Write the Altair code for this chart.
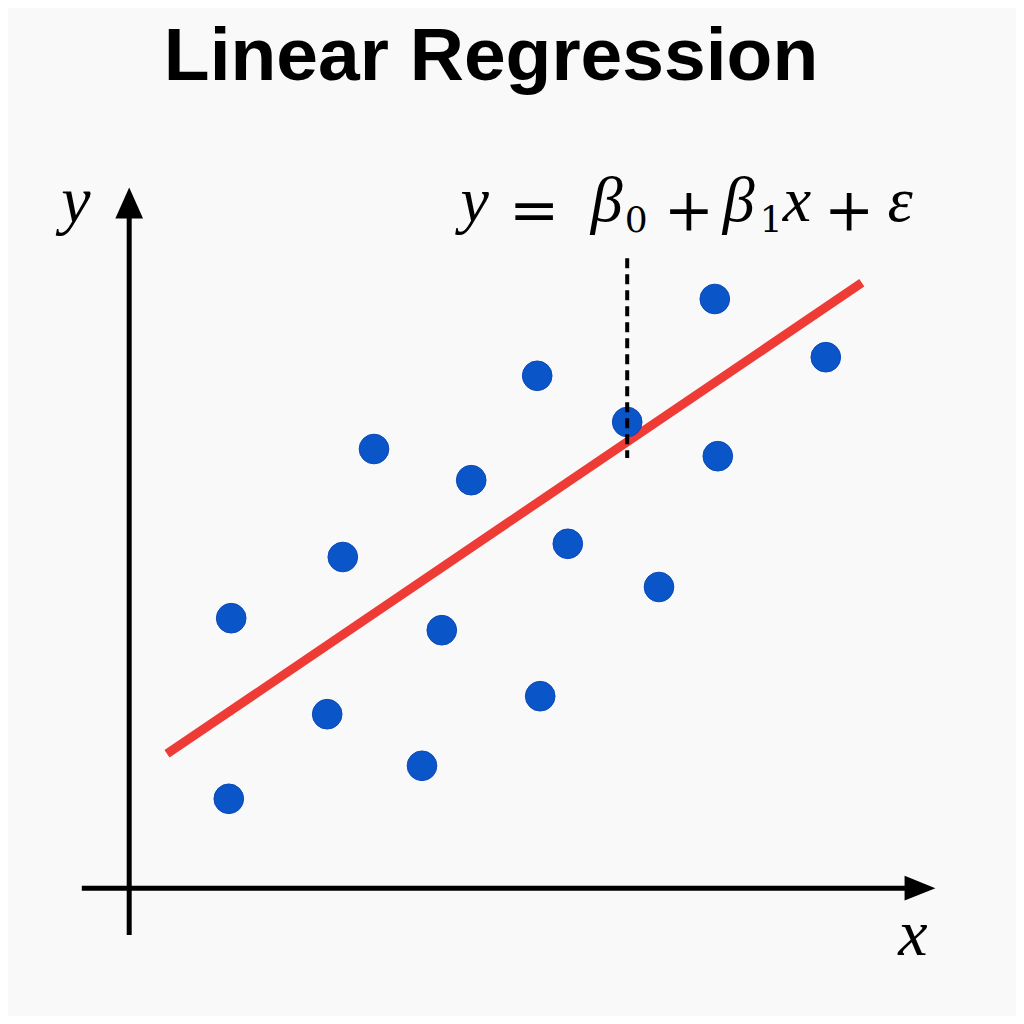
import altair as alt
import pandas as pd

# Scatter points (data units)
px = [1.72, 1.68, 3.32, 3.58, 4.10, 4.90, 5.23, 5.72, 6.82, 6.87, 7.33, 8.32, 8.85, 9.78, 9.83, 11.63]
py = [4.53, 1.52, 2.93, 5.55, 7.35, 2.07, 4.33, 6.83, 8.57, 3.23, 5.77, 7.80, 5.05, 9.85, 7.23, 8.88]

# Regression line end points
line_x = [0.65, 12.23]
line_y = [2.27, 10.12]

# Residual (dashed) segment
res_x = [8.32]
res_y1 = [10.53]
res_y2 = [7.20]

# Axes segments (x, y, x2, y2)
axis_x1 = [0.02, -0.77]
axis_y1 = [-0.75, 0.03]
axis_x2 = [0.02, 12.95]
axis_y2 = [11.3, 0.03]

# Arrow heads
head_x = [0.02, 13.2]
head_y = [11.45, 0.03]
head_shape = ["M-0.9,1L0,-1L0.9,1Z", "M-1,-0.8L1,0L-1,0.8Z"]

# Texts
title_text = ["Linear Regression"]
title_x = [6.05]
title_y = [13.5]

# Equation  y = β0 + β1 x + ε  (pieces: italic letters, upright operators, subscripts)
eq_ital_text = ["y", "β", "β", "x", "ε"]
eq_ital_x = [5.78, 7.98, 10.18, 11.15, 12.87]
eq_ital_y = [11.15, 11.15, 11.15, 11.15, 11.15]
eq_op_text = ["=", "+", "+"]
eq_op_x = [6.77, 9.35, 12.02]
eq_op_y = [11.0, 11.0, 11.0]
eq_sub_text = ["0", "1"]
eq_sub_x = [8.47, 10.72]
eq_sub_y = [10.97, 10.97]

lab_text = ["y", "x"]
lab_x = [-0.87, 13.08]
lab_y = [11.13, -1.08]

XS = alt.Scale(domain=[-2, 14.8], nice=False, zero=False)
YS = alt.Scale(domain=[-2.1, 14.7], nice=False, zero=False)

pts = pd.DataFrame({"x": px, "y": py})
ln = pd.DataFrame({"x": line_x, "y": line_y})
res = pd.DataFrame({"x": res_x, "y": res_y1, "y2": res_y2})
ax = pd.DataFrame({"x": axis_x1, "y": axis_y1, "x2": axis_x2, "y2": axis_y2})
heads = pd.DataFrame({"x": head_x, "y": head_y, "shape": head_shape})
ttl = pd.DataFrame({"x": title_x, "y": title_y, "t": title_text})
eqi = pd.DataFrame({"x": eq_ital_x, "y": eq_ital_y, "t": eq_ital_text})
eqo = pd.DataFrame({"x": eq_op_x, "y": eq_op_y, "t": eq_op_text})
eqs = pd.DataFrame({"x": eq_sub_x, "y": eq_sub_y, "t": eq_sub_text})
labs = pd.DataFrame({"x": lab_x, "y": lab_y, "t": lab_text})

X = lambda f="x": alt.X(f"{f}:Q", scale=XS, axis=None)
Y = lambda f="y": alt.Y(f"{f}:Q", scale=YS, axis=None)

axes = alt.Chart(ax).mark_rule(color="black", strokeWidth=5).encode(
    x=X(), y=Y(), x2="x2:Q", y2="y2:Q")

arrows = alt.Chart(heads).mark_point(filled=True, color="black", opacity=1, size=950, strokeWidth=0).encode(
    x=X(), y=Y(), shape=alt.Shape("shape:N", scale=None))

reg = alt.Chart(ln).mark_line(color="#ee3b36", strokeWidth=9, strokeCap="butt").encode(
    x=X(), y=Y())

dots = alt.Chart(pts).mark_circle(size=880, color="#0a56c9", opacity=1,
                                  stroke="#0a47b9", strokeWidth=1).encode(x=X(), y=Y())

dash = alt.Chart(res).mark_rule(color="black", strokeWidth=4, strokeDash=[10, 6]).encode(
    x=X(), y=Y(), y2="y2:Q")

title = alt.Chart(ttl).mark_text(font="Liberation Sans", fontWeight="bold", fontSize=75,
                                 align="center", baseline="alphabetic", color="black").encode(
    x=X(), y=Y(), text="t:N")

eq_ital = alt.Chart(eqi).mark_text(font="Liberation Serif", fontStyle="italic", fontSize=64,
                                   align="center", baseline="alphabetic", color="black").encode(
    x=X(), y=Y(), text="t:N")

eq_op = alt.Chart(eqo).mark_text(font="DejaVu Serif", fontSize=60,
                                 align="center", baseline="alphabetic", color="black").encode(
    x=X(), y=Y(), text="t:N")

eq_sub = alt.Chart(eqs).mark_text(font="DejaVu Serif", fontSize=36,
                                  align="center", baseline="alphabetic", color="black").encode(
    x=X(), y=Y(), text="t:N")

labels = alt.Chart(labs).mark_text(font="Liberation Serif", fontStyle="italic", fontSize=66,
                                   align="center", baseline="alphabetic", color="black").encode(
    x=X(), y=Y(), text="t:N")

chart = alt.layer(axes, arrows, reg, dots, dash, title, eq_ital, eq_op, eq_sub, labels).properties(
    width=1008, height=1008, padding=0, autosize=alt.AutoSizeParams(type="none"),
    background="#f9f9f9"
).configure_view(stroke=None)

chart.save("out.html", embed_options={"renderer": "svg", "actions": False})
